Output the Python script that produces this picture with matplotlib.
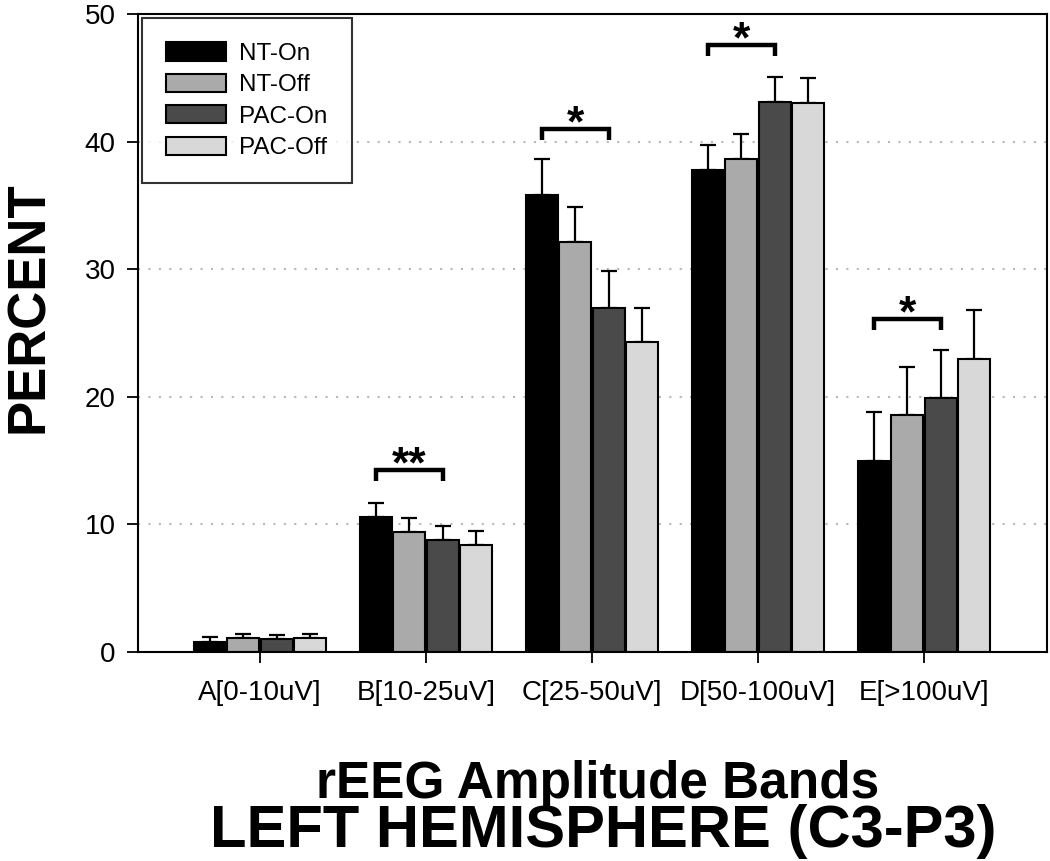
import numpy as np
import matplotlib
matplotlib.use('Agg')
import matplotlib.pyplot as plt

plt.rcParams['font.family'] = ['Liberation Sans', 'DejaVu Sans']

bands = ['A[0-10uV]', 'B[10-25uV]', 'C[25-50uV]', 'D[50-100uV]', 'E[>100uV]']
groups = ['NT-On', 'NT-Off', 'PAC-On', 'PAC-Off']

nt_on = [0.8, 10.6, 35.8, 37.8, 15.0]
nt_on_err = [0.35, 1.1, 2.8, 1.9, 3.8]
nt_off = [1.1, 9.4, 32.1, 38.6, 18.6]
nt_off_err = [0.3, 1.1, 2.8, 2.0, 3.7]
pac_on = [1.0, 8.8, 27.0, 43.1, 19.9]
pac_on_err = [0.3, 1.1, 2.9, 2.0, 3.8]
pac_off = [1.1, 8.4, 24.3, 43.0, 23.0]
pac_off_err = [0.3, 1.1, 2.7, 2.0, 3.8]

# significance brackets (NT-On vs PAC-On)
sig_bands = [1, 2, 3, 4]
sig_heights = [14.3, 41.0, 47.6, 26.1]
sig_labels = ['**', '*', '*', '*']

colors = ['#000000', '#aaaaaa', '#4a4a4a', '#d8d8d8']
values = [nt_on, nt_off, pac_on, pac_off]
errors = [nt_on_err, nt_off_err, pac_on_err, pac_off_err]

fig = plt.figure(figsize=(10.5, 8.61), dpi=100)
ax = fig.add_axes([0.1314, 0.2427, 0.8656, 0.741])

x = np.arange(len(bands))
w = 0.2
for i in range(4):
    pos = x + (i - 1.5) * w
    ax.bar(pos, values[i], w * 0.96, color=colors[i], edgecolor='black',
           linewidth=1.5, label=groups[i], zorder=2)
    ax.errorbar(pos, values[i], yerr=[np.zeros(len(bands)), errors[i]],
                fmt='none', ecolor='black', elinewidth=1.6, capsize=6,
                capthick=1.6, zorder=1)

for b, h, lab in zip(sig_bands, sig_heights, sig_labels):
    x0 = b - 1.5 * w
    x1 = b + 0.5 * w
    ax.plot([x0, x0, x1, x1], [h - 0.9, h, h, h - 0.9], color='black',
            lw=3.2, solid_capstyle='butt', solid_joinstyle='miter', zorder=3)
    ax.text((x0 + x1) / 2, h - 0.6, lab, ha='center', va='baseline',
            fontsize=32, fontweight='bold', zorder=3)

ax.set_xlim(-0.735, 4.74)
ax.set_ylim(0, 50)
ax.set_yticks([0, 10, 20, 30, 40, 50])
ax.set_xticks(x)
ax.set_xticklabels(bands)
ax.tick_params(axis='both', labelsize=20, direction='out', length=8, width=1.3)
ax.tick_params(axis='x', pad=12)
ax.tick_params(axis='y', pad=8)
for yv in [10, 20, 30, 40]:
    ax.axhline(yv, color='#b8b8b8', lw=1.5, ls=(0, (1, 4)), zorder=0)
for sp in ax.spines.values():
    sp.set_linewidth(1.5)

leg = ax.legend(loc='upper left', fontsize=17.5, frameon=True, fancybox=False,
                edgecolor='black', handlelength=2.45, handleheight=0.78,
                borderaxespad=0.17, borderpad=1.0, labelspacing=0.36,
                handletextpad=0.55)
leg.get_frame().set_linewidth(1.5)

fig.text(0.575, 0.016, 'LEFT HEMISPHERE (C3-P3)', ha='center',
         va='baseline', fontsize=43, fontweight='bold')
fig.text(0.5695, 0.073, 'rEEG Amplitude Bands', ha='center',
         va='baseline', fontsize=37, fontweight='bold')
fig.text(0.028, 0.643, 'PERCENT', rotation=90, ha='center', va='center',
         fontsize=38, fontweight='bold')

fig.savefig('out.png', dpi=100)
